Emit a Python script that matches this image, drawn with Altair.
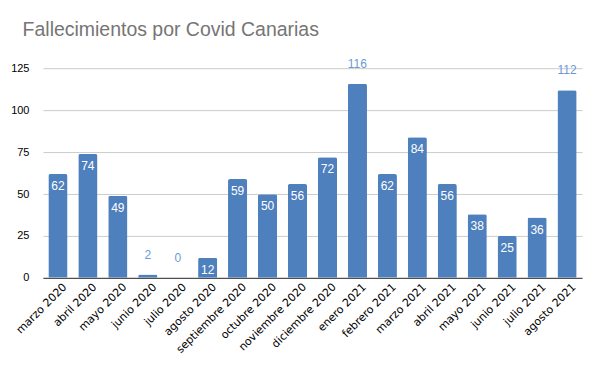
import altair as alt
import pandas as pd

months = ["marzo 2020", "abril 2020", "mayo 2020", "junio 2020", "julio 2020",
          "agosto 2020", "septiembre 2020", "octubre 2020", "noviembre 2020",
          "diciembre 2020", "enero 2021", "febrero 2021", "marzo 2021",
          "abril 2021", "mayo 2021", "junio 2021", "julio 2021", "agosto 2021"]
deaths = [62, 74, 49, 2, 0, 12, 59, 50, 56, 72, 116, 62, 84, 56, 38, 25, 36, 112]
outside = [False, False, False, True, True, False, False, False, False, False,
           True, False, False, False, False, False, False, True]

df = pd.DataFrame({"mes": months, "valor": deaths, "fuera": outside})

FONT = "Liberation Sans"

x = alt.X("mes:N", sort=months, title=None,
          scale=alt.Scale(paddingInner=0.36, paddingOuter=0.18),
          axis=alt.Axis(labelAngle=-45, labelAlign="right", labelBaseline="top",
                        labelFont="DejaVu Sans", labelFontSize=11, labelColor="#000000",
                        ticks=False, domainColor="#333333", labelPadding=3,
                        labelOffset=3))
y = alt.Y("valor:Q", title=None,
          scale=alt.Scale(domain=[0, 125]),
          axis=alt.Axis(values=[0, 25, 50, 75, 100, 125], domain=False, ticks=False,
                        gridColor="#cccccc", labelFont=FONT, labelFontSize=11,
                        labelColor="#000000", labelPadding=14))

bars = alt.Chart(df).mark_bar(color="#4e80bd", cornerRadiusTopLeft=2,
                              cornerRadiusTopRight=2).encode(x=x, y=y)

inside_lbl = alt.Chart(df).transform_filter("!datum.fuera").mark_text(
    font=FONT, fontSize=12, color="#ffffff", baseline="middle", dy=12
).encode(x=alt.X("mes:N", sort=months), y="valor:Q", text="valor:Q")

outside_lbl = alt.Chart(df).transform_filter("datum.fuera").mark_text(
    font=FONT, fontSize=12, color="#6a9ad6", baseline="middle", dy=-20
).encode(x=alt.X("mes:N", sort=months), y="valor:Q", text="valor:Q")

chart = alt.layer(bars, inside_lbl, outside_lbl).properties(
    width=540, height=218,
    title=alt.Title("Fallecimientos por Covid Canarias", anchor="start",
                    font=FONT, fontSize=19.5, fontWeight="normal", color="#757575",
                    dx=12, offset=17),
    autosize=alt.AutoSizeParams(type="none"),
    padding={"left": 35, "top": 52, "right": 10, "bottom": 80},
).configure_view(stroke=None)

chart.save("out.html", embed_options={"renderer": "svg", "actions": False})
